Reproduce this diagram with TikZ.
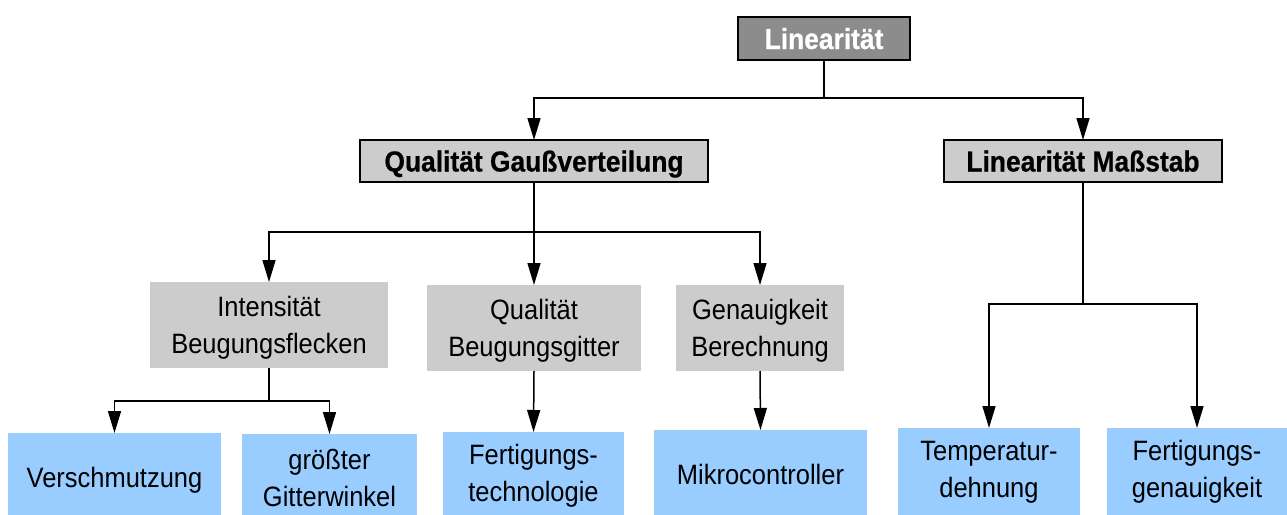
\documentclass[tikz,border=0pt]{standalone}
\usepackage{fontspec}
\setmainfont{Liberation Sans}
\newfontfamily\regfont[FakeStretch=0.91]{Liberation Sans}
\newfontfamily\boldfont[FakeStretch=0.91,FakeBold=0.6]{Liberation Sans Bold}
\usetikzlibrary{arrows.meta}
\definecolor{titlegray}{RGB}{140,140,140}
\definecolor{midgray}{RGB}{204,204,204}
\definecolor{leafblue}{RGB}{153,204,255}
\begin{document}
\begin{tikzpicture}[x=1pt,y=-1pt,
  box/.style={anchor=north west,inner sep=0pt,outer sep=0pt,align=center},
  headbox/.style={box,draw=black,line width=1.5pt,text height=21pt,text depth=0pt,
    font=\fontsize{29}{34}\boldfont},
  midbox/.style={box,fill=midgray,text depth=0pt,font=\fontsize{28}{37}\regfont},
  leafbox/.style={box,fill=leafblue,font=\fontsize{28}{37}\regfont},
  oneline/.style={text height=20pt,text depth=0pt},
  link/.style={line width=1.5pt,draw=black},
  arr/.style={link,-{Triangle[length=22pt,width=13pt]}}]
\useasboundingbox (0,0) rectangle (1287,514);
\clip (0,0) rectangle (1287,514);

% top level
\node[headbox,fill=titlegray,text=white,minimum width=172pt,minimum height=43pt]
  (lin) at (738,17) {Linearität};

% second level
\node[headbox,fill=midgray,minimum width=348pt,minimum height=42pt]
  (qg) at (360,140) {Qualität Gaußverteilung};
\node[headbox,fill=midgray,minimum width=278pt,minimum height=42pt]
  (lm) at (944,140) {Linearität Maßstab};

% third level
\node[midbox,minimum width=238pt,minimum height=86pt]
  (ib) at (150,282) {Intensität\\Beugungsflecken};
\node[midbox,minimum width=214pt,minimum height=86pt]
  (qb) at (427,285) {Qualität\\Beugungsgitter};
\node[midbox,minimum width=168pt,minimum height=86pt]
  (gb) at (676,285) {Genauigkeit\\Berechnung};

% leaves
\node[leafbox,oneline,minimum width=213pt,minimum height=88pt]
  (vs) at (8,433) {Verschmutzung};
\node[leafbox,minimum width=175pt,minimum height=88pt]
  (gw) at (242,434) {größter\\Gitterwinkel};
\node[leafbox,minimum width=181pt,minimum height=88pt]
  (ft) at (443,432) {Fertigungs-\\technologie};
\node[leafbox,oneline,minimum width=213pt,minimum height=88pt]
  (mc) at (654,430) {Mikrocontroller};
\node[leafbox,minimum width=182pt,minimum height=88pt]
  (td) at (898,428) {Temperatur-\\dehnung};
\node[leafbox,minimum width=180pt,minimum height=88pt]
  (fg) at (1107,428) {Fertigungs-\\genauigkeit};

% junction points
\coordinate (j1) at (824,98);
\coordinate (j2) at (534,232);
\coordinate (j3) at (269,401);
\coordinate (j4) at (1083,304);

% connectors
\draw[link] (lin.south) -- (j1);
\draw[arr] (j1) -| (qg.north);
\draw[arr] (j1) -| (lm.north);

\draw[link] (qg.south) -- (j2);
\draw[arr] (j2) -| (ib.north);
\draw[arr] (j2) -- (qb.north);
\draw[arr] (j2) -| (gb.north);

\draw[link] (ib.south) -- (j3);
\draw[arr] (j3) -| (vs.north);
\draw[arr] (j3) -| (gw.north);

\draw[arr] (qb.south) -- (ft.north);
\draw[arr] (gb.south) -- (mc.north);

\draw[link] (lm.south) -- (j4);
\draw[arr] (j4) -| (td.north);
\draw[arr] (j4) -| (fg.north);
\end{tikzpicture}
\end{document}
